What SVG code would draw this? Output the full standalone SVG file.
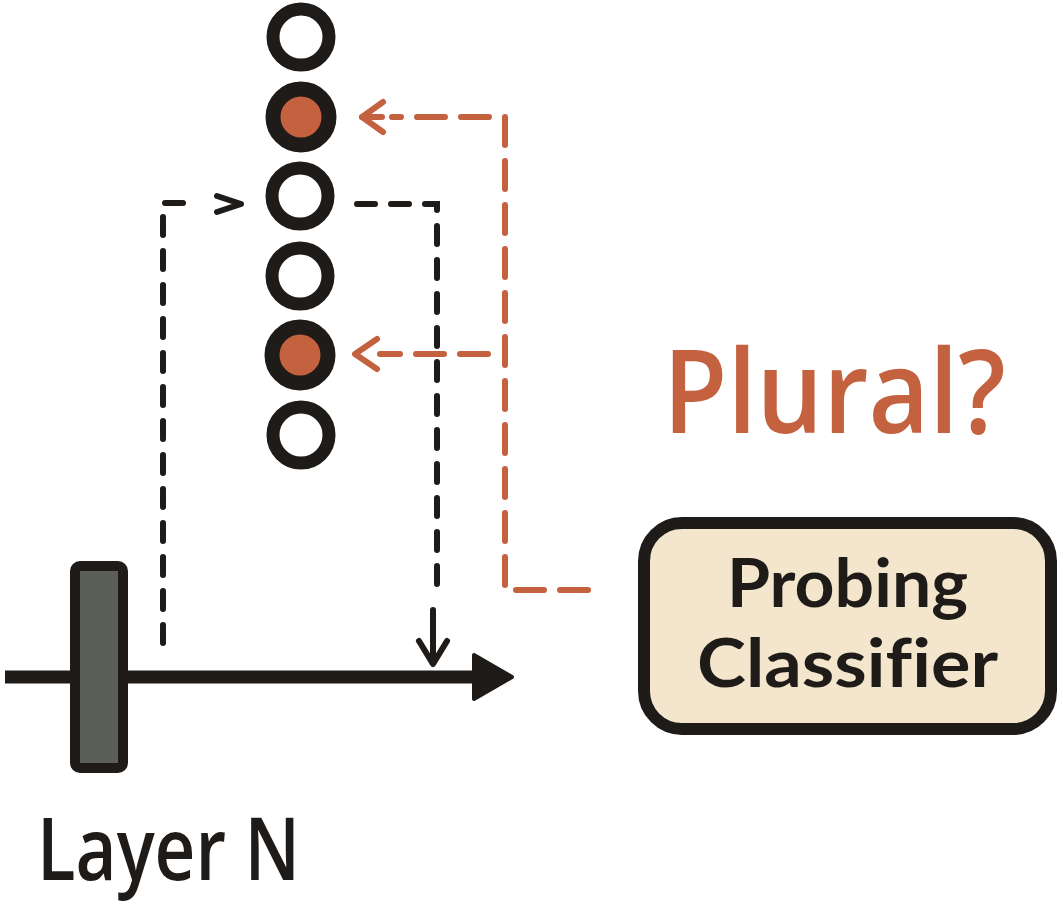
<svg xmlns="http://www.w3.org/2000/svg" width="1063" height="910" viewBox="0 0 1063 910">
<style>
.ring{fill:#ffffff;stroke:#1e1b18;stroke-width:13}
.hot{fill:#c4613f;stroke:#1e1b18;stroke-width:15}
.bd{fill:none;stroke:#1e1b18;stroke-width:6;stroke-dasharray:18 16;stroke-linecap:round}
.bs{fill:none;stroke:#1e1b18;stroke-width:6;stroke-linecap:round;stroke-linejoin:round}
.od{fill:none;stroke:#c4613f;stroke-width:6;stroke-dasharray:28 16;stroke-linecap:round}
.os{fill:none;stroke:#c4613f;stroke-width:6;stroke-linecap:round;stroke-linejoin:round}
.t{font-family:"Open Sans","Noto Sans",sans-serif;font-weight:600;fill:#1e1b18}
.bx{font-family:Lato,"Open Sans",sans-serif;font-weight:700;fill:#1e1b18;font-variant-ligatures:none}
</style>
<rect width="1063" height="910" fill="#ffffff"/>
<g id="neurons">
<circle class="ring" cx="301" cy="37" r="28"/>
<circle class="hot" cx="301" cy="117" r="28"/>
<circle class="ring" cx="300" cy="196" r="28"/>
<circle class="ring" cx="300" cy="276" r="28"/>
<circle class="hot" cx="300" cy="355" r="28"/>
<circle class="ring" cx="301" cy="435" r="28"/>
</g>
<g id="layer-n">
<line x1="5" y1="677" x2="480" y2="677" stroke="#1e1b18" stroke-width="13"/>
<polygon points="474,655 512,677 474,699" fill="#1e1b18" stroke="#1e1b18" stroke-width="4" stroke-linejoin="round"/>
<rect x="75" y="566" width="48" height="202" rx="5" fill="#5c5e58" stroke="#1e1b18" stroke-width="10"/>
<text class="t" x="37" y="880" font-size="86" textLength="263" lengthAdjust="spacingAndGlyphs">Layer N</text>
</g>
<g id="plural">
<text x="663" y="433" font-family="'Open Sans','Noto Sans',sans-serif" font-weight="600" font-size="116" fill="#c4613f" textLength="343" lengthAdjust="spacingAndGlyphs">Plural?</text>
</g>
<g id="probing-classifier">
<rect x="644" y="523" width="407" height="206" rx="38" fill="#f3e6cc" stroke="#1e1b18" stroke-width="12"/>
<text class="bx" x="727" y="607" font-size="66" textLength="241" lengthAdjust="spacingAndGlyphs">Probing</text>
<text class="bx" x="697" y="687" font-size="66" textLength="301" lengthAdjust="spacingAndGlyphs">Classifier</text>
</g>
<g id="connectors">
<path class="bd" d="M163 643 L163 203 L184 203"/>
<polyline class="bs" points="217,196 241,204 217,212"/>
<path class="bd" d="M357 204 L437 204 L437 596"/>
<line class="bs" x1="433" y1="610" x2="433" y2="662"/>
<polyline class="bs" points="419,641 433,664 447,641"/>
<path class="od" d="M588 590 L505 590 L505 117 L392 117"/>
<line class="os" x1="362" y1="117" x2="382" y2="117"/>
<polyline class="os" points="383,102 362,117 383,132"/>
<path class="od" d="M488 354 L380 354"/>
<polyline class="os" points="377,339 355,354 377,369"/>
</g>
</svg>
